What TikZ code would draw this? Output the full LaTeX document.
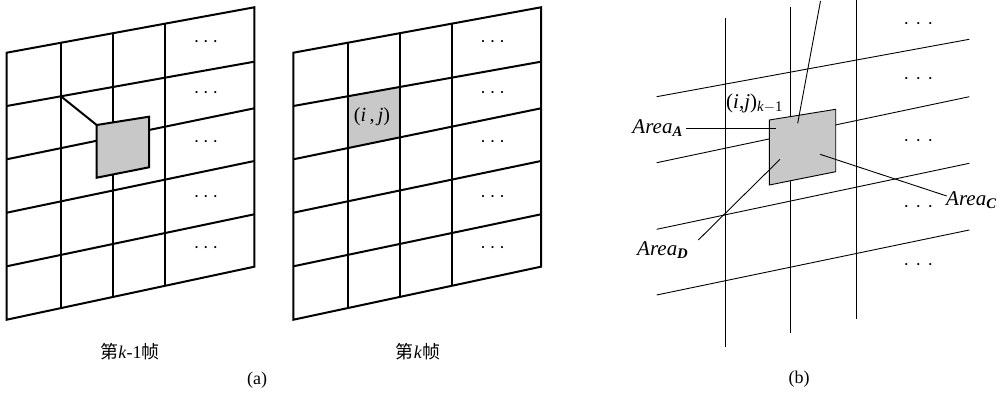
\documentclass[tikz,border=0pt]{standalone}
\usepackage{fontspec}
\setmainfont{Liberation Serif}
\newfontfamily\cjk{Noto Sans CJK SC}
\usetikzlibrary{calc}
\definecolor{cellgray}{RGB}{200,200,200}
\newcommand\mydots[1]{\textperiodcentered\hspace{#1}\textperiodcentered\hspace{#1}\textperiodcentered}
\newcommand\gridframe[1]{%
  \foreach \k/\yl/\yr in {0/52.7/7.3,1/106/61.7,2/159.3/108.3,3/212.7/161,4/266.3/214.3,5/319.7/266.7}{%
    \coordinate (#1L\k) at (6.7,\yl);
    \coordinate (#1R\k) at (254.3,\yr);
  }
}
\newcommand\gridlines[1]{%
  \draw[frameline] (#1L0) -- (#1R0) -- (#1R5) -- (#1L5) -- cycle;
  \foreach \k in {1,...,4}{\draw[frameline] (#1L\k) -- (#1R\k);}
  \foreach \t in {0.219,0.429,0.641}{\draw[frameline] ($(#1L0)!\t!(#1R0)$) -- ($(#1L5)!\t!(#1R5)$);}
  \foreach \k/\y in {1/44.3,2/95,3/144.3,4/199.3,5/250}{\node[dots] (#1d\k) at (206,\y) {\mydots{3.5pt}};}
}
\begin{document}
\begin{tikzpicture}[x=1pt,y=-1pt,
  frameline/.style={line width=2pt},
  thinline/.style={line width=0.9pt},
  lbl/.style={font=\fontsize{18}{20}\selectfont, inner sep=0pt},
  ilbl/.style={font=\fontsize{21}{24}\selectfont, inner sep=0pt},
  dots/.style={font=\fontsize{18}{20}\selectfont, inner sep=0pt}]
\useasboundingbox (0,0) rectangle (1004,393);
\clip (0,0) rectangle (1004,393);
% ---------- frame k-1 ----------
\begin{scope}
  \gridframe{f1}
  \gridlines{f1}
  \coordinate (s1) at (96.7,125);
  \coordinate (s2) at (149,116.7);
  \coordinate (s3) at (149,167.3);
  \coordinate (s4) at (96.7,177.7);
  \draw[frameline, fill=cellgray] (s1) -- (s2) -- (s3) -- (s4) -- cycle;
  \coordinate (x1) at ($(f1L1)!0.219!(f1R1)$);
  \draw[frameline] (x1) -- (s1);
  \node[lbl] (cap1) at (130,352) {{\cjk 第}\textit{k}-1{\cjk 帧}};
\end{scope}
% ---------- frame k ----------
\begin{scope}[xshift=286.7pt]
  \gridframe{f2}
  \fill[cellgray] ($(f2L1)!0.219!(f2R1)$) -- ($(f2L1)!0.429!(f2R1)$) -- ($(f2L2)!0.429!(f2R2)$) -- ($(f2L2)!0.219!(f2R2)$) -- cycle;
  \gridlines{f2}
  \node[ilbl, font=\fontsize{20}{22}\selectfont] (ij) at (85.3,117) {(\textit{i}\,,\,\textit{j})};
  \node[lbl] (cap2) at (131.3,352) {{\cjk 第}\textit{k}{\cjk 帧}};
\end{scope}
\node[lbl] (capa) at (257,380) {(a)};
% ---------- panel (b) ----------
\coordinate (V1t) at (725,18.3);   \coordinate (V1b) at (725,346.7);
\coordinate (V2t) at (790.3,6.7);  \coordinate (V2b) at (790.3,333.3);
\coordinate (V3t) at (856,-6);     \coordinate (V3b) at (856,319.3);
\coordinate (H1l) at (656.7,96.7);  \coordinate (H1r) at (969.3,39.3);
\coordinate (H2l) at (656.7,162.7); \coordinate (H2r) at (969.3,96.7);
\coordinate (H3l) at (656.7,229.3); \coordinate (H3r) at (969.3,163.3);
\coordinate (H4l) at (656.7,295);   \coordinate (H4r) at (969.3,230);
\foreach \n in {1,2,3}{\draw[thinline] (V\n t) -- (V\n b);}
\foreach \n in {1,2,3,4}{\draw[thinline] (H\n l) -- (H\n r);}
\coordinate (q1) at (769.3,120);
\coordinate (q2) at (835.7,109.3);
\coordinate (q3) at (835.7,171.7);
\coordinate (q4) at (769.3,185);
\draw[thinline, fill=cellgray] (q1) -- (q2) -- (q3) -- (q4) -- cycle;
\foreach \k/\y in {1/26,2/81,3/143.3,4/209.3,5/267.3}{\node[dots] (bd\k) at (918.3,\y) {\mydots{6pt}};}
% labels and leaders
\node[ilbl, anchor=base west] (ijk) at (726,108.3) {(\textit{i},\textit{j})\textsubscript{\textit{k}$-$1}};
\node[ilbl, anchor=base east] (areaA) at (683,133.5) {\textit{Area}\textsubscript{\textbf{\textit{A}}}};
\coordinate (pA0) at (686,128.3); \coordinate (pA) at (775.7,128.3);
\draw[thinline] (pA0) -- (pA);
\node[ilbl, anchor=base west] (areaB) at (784,-7) {\textit{Area}\textsubscript{\textbf{\textit{B}}}};
\coordinate (pB0) at (820.5,1); \coordinate (pB) at (797.7,123.3);
\draw[thinline] (pB0) -- (pB);
\node[ilbl, anchor=base west] (areaC) at (946,205) {\textit{Area}\textsubscript{\textbf{\textit{C}}}};
\coordinate (pC0) at (946.7,196); \coordinate (pC) at (820,154.3);
\draw[thinline] (pC0) -- (pC);
\node[ilbl, anchor=base west] (areaD) at (637,255) {\textit{Area}\textsubscript{\textbf{\textit{D}}}};
\coordinate (pD0) at (698.3,240); \coordinate (pD) at (780,159.3);
\draw[thinline] (pD0) -- (pD);
\node[lbl] (capb) at (799,379.3) {(b)};
\end{tikzpicture}
\end{document}
